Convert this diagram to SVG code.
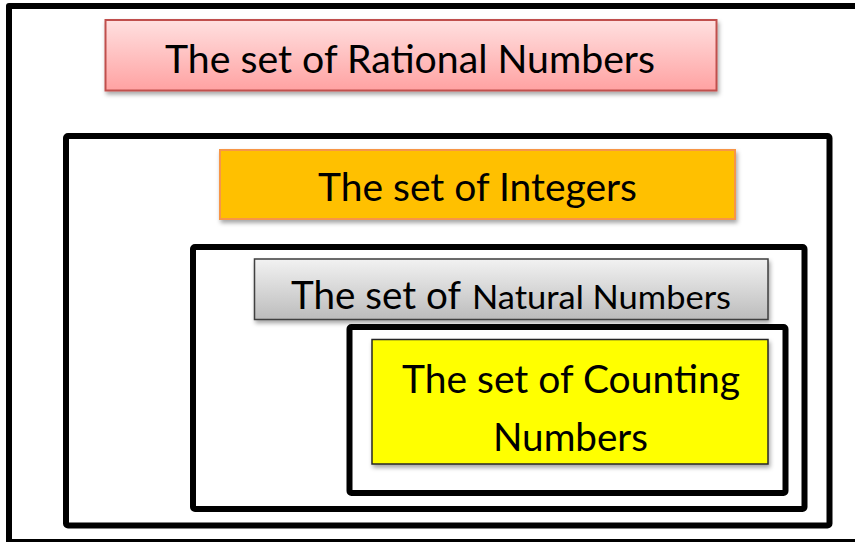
<svg xmlns="http://www.w3.org/2000/svg" width="855" height="542" viewBox="0 0 855 542">
<style>
.frame{fill:none;stroke:#000;stroke-width:6;stroke-linejoin:round}
.lbl{font-family:Lato,"Open Sans","Liberation Sans",sans-serif;fill:#000}
</style>
<defs>
<linearGradient id="gPink" x1="0" y1="0" x2="0" y2="1"><stop offset="0" stop-color="#ffe0e0"/><stop offset="1" stop-color="#ffa2a2"/></linearGradient>
<linearGradient id="gGray" x1="0" y1="0" x2="0" y2="1"><stop offset="0" stop-color="#f2f2f2"/><stop offset="1" stop-color="#bcbcbc"/></linearGradient>
<filter id="sh" x="-5%" y="-20%" width="110%" height="150%"><feDropShadow dx="1.5" dy="3" stdDeviation="2" flood-color="#000" flood-opacity="0.35"/></filter>
</defs>
<rect x="0" y="0" width="855" height="542" fill="#fff"/>
<g id="frames">
<rect id="outer" class="frame" x="9" y="6" width="852" height="536"/>
<rect id="frame-integers" class="frame" x="66" y="136" width="763.5" height="389.5" rx="2"/>
<rect id="frame-natural" class="frame" x="193" y="247" width="611.5" height="262" rx="2"/>
<rect id="frame-counting" class="frame" x="349.5" y="327" width="436" height="166" rx="2"/>
</g>
<g id="node-rational">
<rect x="105.5" y="20" width="611" height="70.5" fill="url(#gPink)" stroke="#c0504d" stroke-width="2" filter="url(#sh)"/>
<text class="lbl" x="165" y="73" font-size="38" textLength="490" lengthAdjust="spacingAndGlyphs">The set of Rational Numbers</text>
</g>
<g id="node-integers">
<rect x="220" y="150" width="515" height="69" fill="#ffc000" stroke="#f79646" stroke-width="2" filter="url(#sh)"/>
<text class="lbl" x="318" y="201" font-size="38" textLength="319" lengthAdjust="spacingAndGlyphs">The set of Integers</text>
</g>
<g id="node-natural">
<rect x="254.5" y="259" width="513.5" height="60.5" fill="url(#gGray)" stroke="#3f3f3f" stroke-width="1.5" filter="url(#sh)"/>
<text class="lbl" y="309" font-size="38"><tspan x="291" textLength="170" lengthAdjust="spacingAndGlyphs">The set of</tspan><tspan x="472" font-size="33" textLength="259" lengthAdjust="spacingAndGlyphs">Natural Numbers</tspan></text>
</g>
<g id="node-counting">
<rect x="372" y="339.5" width="396" height="124.5" fill="#ffff00" stroke="#262626" stroke-width="1.5" filter="url(#sh)"/>
<text class="lbl" x="402" y="393" font-size="38" textLength="338" lengthAdjust="spacingAndGlyphs">The set of Counting</text>
<text class="lbl" x="493" y="451" font-size="38" textLength="155" lengthAdjust="spacingAndGlyphs">Numbers</text>
</g>
<g id="connectors"/>
</svg>
